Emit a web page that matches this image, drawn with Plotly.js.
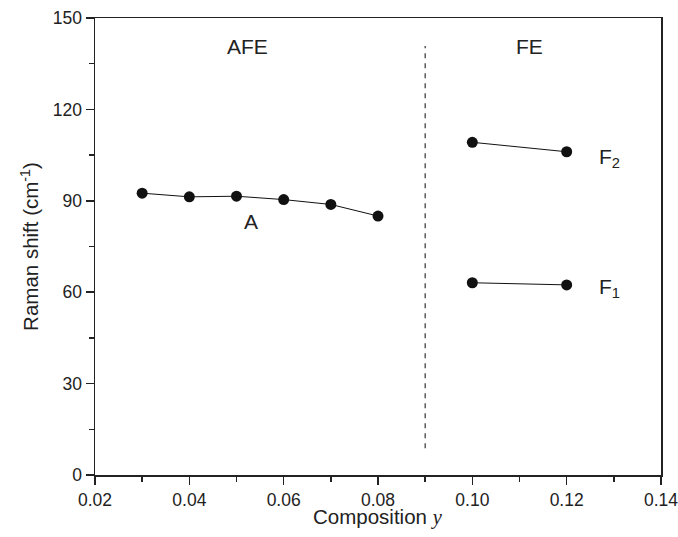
<!DOCTYPE html>
<html><head><meta charset="utf-8">
<script src="https://cdn.plot.ly/plotly-3.0.1.min.js"></script>
<style>html,body{margin:0;padding:0;background:#fff}#plot{width:678px;height:537px}</style>
</head><body><div id="plot"></div>
<script>
const xA = [0.03, 0.04, 0.05, 0.06, 0.07, 0.08];
const yA = [92.5, 91.3, 91.5, 90.4, 88.8, 85.0];
const xF = [0.10, 0.12];
const yF2 = [109.2, 106.1];
const yF1 = [63.1, 62.4];
const boundaryX = [0.09, 0.09];
const boundaryY = [8.8, 140.8];

const mk = {color: '#111', size: 11};
const ln = {color: '#111', width: 1};
const traces = [
  {x: xA, y: yA, mode: 'lines+markers', marker: mk, line: ln},
  {x: xF, y: yF2, mode: 'lines+markers', marker: mk, line: ln},
  {x: xF, y: yF1, mode: 'lines+markers', marker: mk, line: ln},
  {x: boundaryX, y: boundaryY, mode: 'lines', line: {color: '#333', width: 1.2, dash: '5px,5px'}}
];
const fam = 'Liberation Sans, Arial, sans-serif';
const tickF = {family: fam, size: 17.5, color: '#222'};
const titleF = {family: fam, size: 20.5, color: '#222'};
const annF = {family: fam, size: 21, color: '#222'};
const layout = {
  width: 678, height: 537,
  margin: {l: 95, r: 17, t: 18, b: 62},
  showlegend: false,
  plot_bgcolor: '#fff', paper_bgcolor: '#fff',
  font: tickF,
  xaxis: {
    range: [0.02, 0.14], tickvals: [0.02,0.04,0.06,0.08,0.10,0.12,0.14],
    ticktext: ['0.02','0.04','0.06','0.08','0.10','0.12','0.14'],
    ticklabeloverflow: 'allow',
    ticks: 'outside', ticklen: 8, tickwidth: 1.5, tickcolor: '#222',
    minor: {dtick: 0.01, ticks: 'outside', ticklen: 5, tickwidth: 1.5, tickcolor: '#222', showgrid: false},
    showline: true, linecolor: '#222', linewidth: 1.5, mirror: true,
    showgrid: false, zeroline: false, tickfont: tickF, automargin: false
  },
  yaxis: {
    range: [0, 150], tickvals: [0,30,60,90,120,150],
    ticks: 'outside', ticklen: 8, tickwidth: 1.5, tickcolor: '#222',
    minor: {dtick: 15, ticks: 'outside', ticklen: 5, tickwidth: 1.5, tickcolor: '#222', showgrid: false},
    showline: true, linecolor: '#222', linewidth: 1.5, mirror: true,
    showgrid: false, zeroline: false, tickfont: tickF, automargin: false,
    title: {text: 'Raman shift (cm<sup>-1</sup>)', font: titleF, standoff: 8}
  },
  annotations: [
    {xref: 'paper', yref: 'paper', x: 0.5, y: -0.092, yanchor: 'middle', text: 'Composition <i><span style="font-family:Liberation Serif,Times New Roman,serif">y</span></i>', showarrow: false, font: titleF},
    {x: 0.0524, y: 140.6, text: 'AFE', showarrow: false, font: annF},
    {x: 0.1122, y: 140.6, text: 'FE', showarrow: false, font: annF},
    {x: 0.0531, y: 83.3, text: 'A', showarrow: false, font: annF},
    {x: 0.1290, y: 104.0, text: 'F<sub>2</sub>', showarrow: false, font: annF},
    {x: 0.1290, y: 61.3, text: 'F<sub>1</sub>', showarrow: false, font: annF}
  ]
};
Plotly.newPlot('plot', traces, layout, {displayModeBar: false, staticPlot: true});
</script></body></html>
